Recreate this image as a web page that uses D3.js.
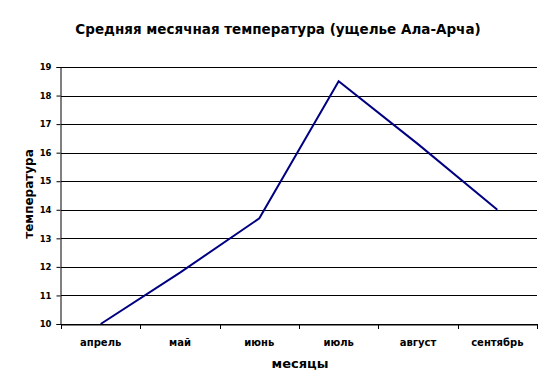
<!DOCTYPE html>
<html>
<head>
<meta charset="utf-8">
<script src="https://cdn.jsdelivr.net/npm/d3@7"></script>
<style>
	body { margin: 0; background: #fff; }
	text { font-family: "DejaVu Sans", "Liberation Sans", Arial, sans-serif; font-weight: bold; fill: #000; }
</style>
</head>
<body>
<div id="chart"></div>
<script>
// данные
var months = ["апрель", "май", "июнь", "июль", "август", "сентябрь"];
var temps = [10, 11.8, 13.7, 18.5, 16.3, 14];
var yTicks = [10, 11, 12, 13, 14, 15, 16, 17, 18, 19];
var title = "Средняя месячная температура (ущелье Ала-Арча)";
var xTitle = "месяцы";
var yTitle = "температура";

var W = 550, H = 389;
var plotLeft = 61, plotRight = 537, plotTop = 67, plotBottom = 324;

var svg = d3.select("#chart").append("svg")
	.attr("width", W)
	.attr("height", H);

var x = d3.scaleBand().domain(months).range([plotLeft, plotRight]);
var y = d3.scaleLinear().domain([10, 19]).range([plotBottom, plotTop]);

// сетка
svg.append("g").selectAll("line")
	.data(yTicks)
	.enter().append("line")
	.attr("x1", plotLeft).attr("x2", plotRight)
	.attr("y1", function(d) { return Math.round(y(d)) + 0.5; })
	.attr("y2", function(d) { return Math.round(y(d)) + 0.5; })
	.attr("stroke", "#000")
	.attr("stroke-width", 1);

// ось Y
var yAxis = svg.append("g")
	.attr("transform", "translate(" + (plotLeft - 0.5) + ",0)")
	.call(d3.axisLeft(y).tickValues(yTicks).tickSize(4).tickPadding(5).tickFormat(d3.format("d")));
yAxis.select(".domain").attr("stroke", "#000");
yAxis.selectAll(".tick line").attr("stroke", "#000");
yAxis.selectAll("text").style("font-size", "8.5px").attr("fill", "#000");

// ось X
var xAxis = svg.append("g")
	.attr("transform", "translate(0," + (plotBottom + 0.5) + ")")
	.call(d3.axisBottom(x).tickSize(0).tickPadding(14));
xAxis.select(".domain").attr("stroke", "#000");
xAxis.selectAll("text").style("font-size", "10px").attr("fill", "#000");
// деления между категориями
svg.append("g").selectAll("line")
	.data(months.concat(["end"]))
	.enter().append("line")
	.attr("x1", function(d, i) { return Math.round(plotLeft + i * x.bandwidth()) + 0.5; })
	.attr("x2", function(d, i) { return Math.round(plotLeft + i * x.bandwidth()) + 0.5; })
	.attr("y1", plotBottom).attr("y2", plotBottom + 5)
	.attr("stroke", "#000");

// линия
var line = d3.line()
	.x(function(d, i) { return x(months[i]) + x.bandwidth() / 2; })
	.y(function(d) { return y(d); });

svg.append("path")
	.datum(temps)
	.attr("d", line)
	.attr("fill", "none")
	.attr("stroke", "#000080")
	.attr("stroke-width", 2);

// заголовки
svg.append("text")
	.attr("x", 278).attr("y", 34)
	.attr("text-anchor", "middle")
	.style("font-size", "13.5px")
	.text(title);

svg.append("text")
	.attr("x", 300).attr("y", 368)
	.attr("text-anchor", "middle")
	.style("font-size", "13px")
	.text(xTitle);

svg.append("text")
	.attr("transform", "translate(33,194) rotate(-90)")
	.attr("text-anchor", "middle")
	.style("font-size", "12px")
	.text(yTitle);
</script>
</body>
</html>
